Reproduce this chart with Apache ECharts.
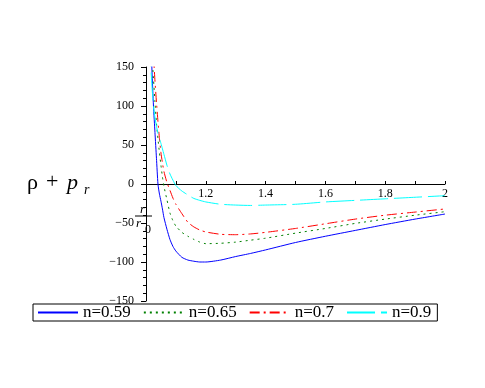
<!DOCTYPE html>
<html>
<head>
<meta charset="utf-8">
<script src="https://cdn.jsdelivr.net/npm/echarts@6/dist/echarts.min.js"></script>
<style>
html,body{margin:0;padding:0;background:#fff;}
#c{width:485px;height:388px;}
</style>
</head>
<body>
<div id="c"></div>
<script>
// r / r0 sample positions
const xs = [1.01, 1.015, 1.02, 1.025, 1.03, 1.035, 1.04, 1.045, 1.05, 1.055, 1.06, 1.07, 1.08, 1.09, 1.10, 1.12, 1.14, 1.16, 1.18, 1.2, 1.25, 1.3, 1.35, 1.4, 1.5, 1.6, 1.7, 1.8, 1.9, 2.0];
// rho + p_r for each n
const n059 = [280, 205, 145, 100, 66, 33, 0, -13, -22, -32, -43, -58, -71, -80, -86, -94, -97.5, -99, -100, -100, -97.5, -93, -89, -84.5, -75, -67, -59.5, -52, -45, -38.5];
const n065 = [300, 220, 165, 135, 105, 78, 58, 40, 24, 9, -3, -20, -37, -47, -54, -62, -67, -71, -74.5, -76.5, -76, -74.5, -72, -69.5, -63, -57, -50.5, -45, -40, -35.5];
const n07  = [400, 290, 215, 165, 132, 105, 80, 58, 40, 27, 16, 2, -8, -18, -26, -38, -49, -55, -59, -61.5, -64.5, -65, -64, -62, -57, -51, -45, -40, -36, -32];
const n09  = [230, 160, 125, 100, 85, 74, 65, 58, 52, 45, 38, 24, 13, 5, -2, -9, -14, -18.5, -21, -23, -26, -27, -27.5, -27, -26, -23, -21, -19, -17, -15];
const seriesNames = ['n=0.59', 'n=0.65', 'n=0.7', 'n=0.9'];
const xTickLabels = ['1.2', '1.4', '1.6', '1.8', '2'];
const yTickLabels = ['150', '100', '50', '0', '\u221250', '\u2212100', '\u2212150'];

const serif = '"Liberation Serif", "DejaVu Serif", serif';
const chart = echarts.init(document.getElementById('c'), null, {renderer: 'canvas'});

function pts(ys) { return xs.map((x, i) => [x, ys[i]]); }

const styles = [
  {color: '#0000ff', type: 'solid'},
  {color: '#008000', type: [2, 4]},
  {color: '#ff0000', type: [10, 4, 2, 4]},
  {color: '#00ffff', type: [28, 6]}
];
const data = [n059, n065, n07, n09];

chart.setOption({
  backgroundColor: '#ffffff',
  animation: false,
  grid: {left: 146, right: 40, top: 67, bottom: 87, containLabel: false},
  legend: {
    left: 33, top: 304,
    orient: 'horizontal',
    data: seriesNames,
    borderColor: '#000', borderWidth: 1, borderRadius: 0,
    padding: [0, 6, 0, 4],
    itemWidth: 40, itemHeight: 12, itemGap: 12,
    itemStyle: {opacity: 0},
    textStyle: {fontFamily: serif, fontSize: 17, color: '#000'}
  },
  xAxis: {
    type: 'value', min: 1, max: 2, interval: 0.1,
    position: 'bottom',
    offset: -117,
    axisLine: {onZero: false, lineStyle: {color: '#000', width: 1}},
    axisTick: {inside: true, length: 3, lineStyle: {color: '#000'}},
    splitLine: {show: false},
    axisLabel: {
      margin: 4, color: '#000', fontFamily: serif, fontSize: 12,
      formatter: function (v) {
        const k = Math.round(v * 10);
        if (k % 2 !== 0 || k === 10) return '';
        const idx = (k - 12) / 2;
        return xTickLabels[idx] || '';
      }
    }
  },
  yAxis: {
    type: 'value', min: -150, max: 150, interval: 50,
    axisLine: {show: true, lineStyle: {color: '#000', width: 1}},
    axisTick: {show: true, length: 5, lineStyle: {color: '#000'}},
    minorTick: {show: true, splitNumber: 5, length: 3, lineStyle: {color: '#000'}},
    splitLine: {show: false},
    axisLabel: {
      margin: 12, color: '#000', fontFamily: serif, fontSize: 12,
      formatter: function (v) {
        const idx = Math.round((150 - v) / 50);
        return yTickLabels[idx] || '';
      }
    }
  },
  graphic: [
    {type: 'text', left: 27, top: 172, style: {text: '\u03c1', font: '22px ' + serif, fill: '#000'}},
    {type: 'text', left: 46, top: 171, style: {text: '+', font: '22px ' + serif, fill: '#000'}},
    {type: 'text', left: 67, top: 172, style: {text: 'p', font: 'italic 22px ' + serif, fill: '#000'}},
    {type: 'text', left: 84, top: 183, style: {text: 'r', font: 'italic 14px ' + serif, fill: '#000'}},
    {type: 'text', left: 140, top: 203, style: {text: 'r', font: 'italic 13px ' + serif, fill: '#000'}},
    {type: 'line', shape: {x1: 135, y1: 216, x2: 152, y2: 216}, style: {stroke: '#000', lineWidth: 1}},
    {type: 'text', left: 136, top: 217, style: {text: 'r', font: 'italic 13px ' + serif, fill: '#000'}},
    {type: 'text', left: 145, top: 224, style: {text: '0', font: '12px ' + serif, fill: '#000'}}
  ],
  series: seriesNames.map((name, i) => ({
    name: name,
    type: 'line',
    data: pts(data[i]),
    smooth: 0.2,
    showSymbol: false,
    symbol: 'none',
    clip: true,
    color: styles[i].color,
    lineStyle: {color: styles[i].color, width: 1, type: styles[i].type}
  }))
});
</script>
</body>
</html>
